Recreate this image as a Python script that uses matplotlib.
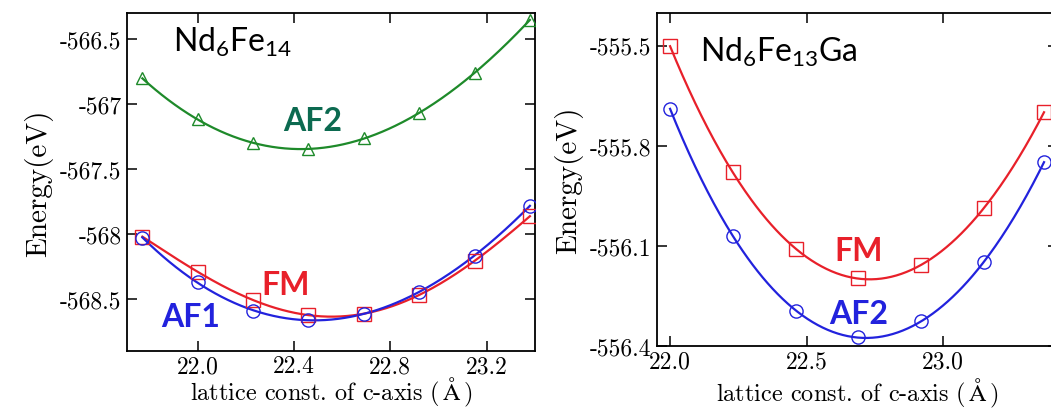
import matplotlib
matplotlib.use('Agg')
import matplotlib.pyplot as plt
import numpy as np

plt.rcParams['mathtext.fontset'] = 'cm'
plt.rcParams['axes.unicode_minus'] = False

# Nd6Fe14: energy vs c lattice constant
c_nd6fe14 = [21.77, 22.00, 22.23, 22.46, 22.69, 22.92, 23.15, 23.38]
e_fm_14 = [-568.020, -568.293, -568.508, -568.621, -568.616, -568.470, -568.205, -567.864]
e_af1_14 = [-568.028, -568.369, -568.596, -568.659, -568.614, -568.445, -568.167, -567.783]
e_af2_14 = [-566.803, -567.119, -567.300, -567.346, -567.263, -567.073, -566.758, -566.354]

# Nd6Fe13Ga
c_nd6fe13ga = [22.00, 22.23, 22.46, 22.69, 22.92, 23.15, 23.37]
e_fm_ga = [-555.500, -555.878, -556.109, -556.197, -556.156, -555.986, -555.698]
e_af2_ga = [-555.688, -556.069, -556.294, -556.374, -556.326, -556.147, -555.848]

xticks_14 = [22.0, 22.4, 22.8, 23.2]
xticklabels_14 = ['22.0', '22.4', '22.8', '23.2']
yticks_14 = [-566.5, -567.0, -567.5, -568.0, -568.5]
yticklabels_14 = ['-566.5', '-567', '-567.5', '-568', '-568.5']

xticks_ga = [22.0, 22.5, 23.0]
xticklabels_ga = ['22.0', '22.5', '23.0']
yticks_ga = [-555.5, -555.8, -556.1, -556.4]
yticklabels_ga = ['-555.5', '-555.8', '-556.1', '-556.4']

RED = '#e8202a'
BLUE = '#2222dd'
GREEN = '#1e8a2a'
TEAL = '#0c6a50'

serif = 'cmr10'
sans = 'Lato'


def fit_curve(ax, x, y, color, marker, ms, deg=4):
    x = np.asarray(x)
    coef = np.polyfit(x, y, deg)
    xs = np.linspace(x.min(), x.max(), 300)
    ax.plot(xs, np.polyval(coef, xs), color=color, lw=1.6, zorder=2)
    ax.plot(x, y, ls='none', marker=marker, ms=ms, mfc='none',
            mec=color, mew=1.0, zorder=3)


def style_axes(ax, xt, xtl, yt, ytl, xlabel_y):
    ax.set_xticks(xt, xtl, fontfamily=serif, fontsize=17)
    ax.set_yticks(yt, ytl, fontfamily=serif, fontsize=17)
    ax.tick_params(direction='in', length=7, width=1.1, top=True, right=True,
                   pad=4)
    ax.tick_params(axis='x', pad=3)
    for s in ax.spines.values():
        s.set_linewidth(1.3)
    ax.set_xlabel(r'$\text{lattice const. of c-axis}\ (\,\mathrm{\AA}\,)$',
                  fontsize=17.5)
    ax.xaxis.set_label_coords(0.5, xlabel_y)
    ax.set_ylabel('Energy(eV)', fontfamily=serif, fontsize=21, labelpad=5)


fig = plt.figure(figsize=(10.51, 4.10), dpi=100)

# left panel
ax1 = fig.add_axes([0.1208, 0.1415, 0.3882, 0.8244])
fit_curve(ax1, c_nd6fe14, e_af2_14, GREEN, '^', 9)
fit_curve(ax1, c_nd6fe14, e_fm_14, RED, 's', 10)
fit_curve(ax1, c_nd6fe14, e_af1_14, BLUE, 'o', 9.5)
ax1.set_xlim(21.706, 23.401)
ax1.set_ylim(-568.90, -566.30)
style_axes(ax1, xticks_14, xticklabels_14, yticks_14, yticklabels_14, -0.072)
ax1.text(0.113, 0.889, r'Nd$\mathregular{_6}$Fe$\mathregular{_{14}}$',
         transform=ax1.transAxes, fontfamily=sans, fontsize=23,
         va='baseline', ha='left')
ax1.text(22.479, -567.125, 'AF2', color=TEAL, fontfamily=sans,
         fontweight='bold', fontsize=23, ha='center', va='center')
ax1.text(22.365, -568.386, 'FM', color=RED, fontfamily=sans,
         fontweight='bold', fontsize=23, ha='center', va='center')
ax1.text(21.970, -568.633, 'AF1', color=BLUE, fontfamily=sans,
         fontweight='bold', fontsize=23, ha='center', va='center')

# right panel, runs past the figure edge
ax2 = fig.add_axes([0.6251, 0.1537, 0.3815, 0.8122])
fit_curve(ax2, c_nd6fe13ga, e_fm_ga, RED, 's', 10)
fit_curve(ax2, c_nd6fe13ga, e_af2_ga, BLUE, 'o', 9.5)
ax2.set_xlim(21.952, 23.421)
ax2.set_ylim(-556.40, -555.40)
style_axes(ax2, xticks_ga, xticklabels_ga, yticks_ga, yticklabels_ga, -0.090)
ax2.text(0.107, 0.856, r'Nd$\mathregular{_6}$Fe$\mathregular{_{13}}$Ga',
         transform=ax2.transAxes, fontfamily=sans, fontsize=23,
         va='baseline', ha='left')
ax2.text(22.690, -556.113, 'FM', color=RED, fontfamily=sans,
         fontweight='bold', fontsize=23, ha='center', va='center')
ax2.text(22.692, -556.301, 'AF2', color=BLUE, fontfamily=sans,
         fontweight='bold', fontsize=23, ha='center', va='center')

fig.savefig('out.png', dpi=100)
